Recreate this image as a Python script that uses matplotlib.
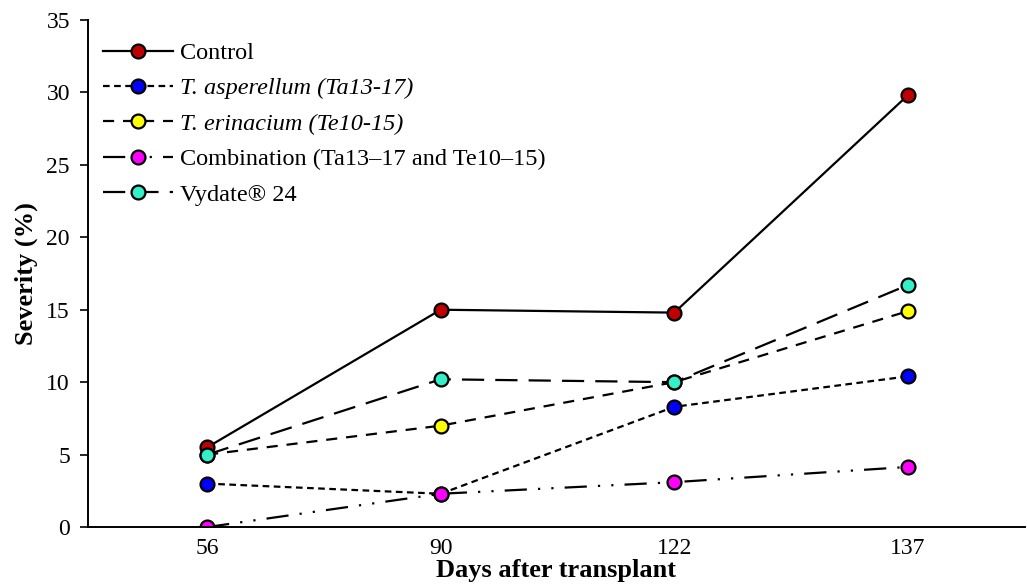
import matplotlib.pyplot as plt

plt.rcParams['font.family'] = ['Liberation Serif', 'DejaVu Serif']

days = ['56', '90', '122', '137']
control = [5.5, 15.0, 14.8, 29.8]
asperellum = [3.0, 2.3, 8.3, 10.4]
erinacium = [5.0, 7.0, 10.0, 14.9]
combination = [0.0, 2.3, 3.1, 4.15]
vydate = [5.0, 10.2, 10.0, 16.7]

labels = ['Control', 'T. asperellum (Ta13-17)', 'T. erinacium (Te10-15)',
          'Combination (Ta13\u201317 and Te10\u201315)', 'Vydate\u00ae 24']

fig = plt.figure(figsize=(10.27, 5.85), dpi=100)
ax = fig.add_axes([0.0857, 0.099, 0.912, 0.867])

x = range(len(days))
common = dict(color='black', lw=1.6, marker='o', markersize=10,
              markeredgecolor='black', markeredgewidth=1.6)
ax.plot(x, control, ls='-', markerfacecolor='#C00000', label=labels[0], **common)
ax.plot(x, asperellum, ls=(0, (3, 2)), markerfacecolor='#0000FF', label=labels[1], **common)
ax.plot(x, erinacium, ls=(0, (5, 4)), markerfacecolor='#FFFF00', label=labels[2], **common)
ax.plot(x, combination, ls=(0, (10, 5, 1, 5, 1, 5)), markerfacecolor='#FF00FF', label=labels[3], **common)
ax.plot(x, vydate, ls=(0, (10, 5)), markerfacecolor='#33F0C8', label=labels[4], **common)

ax.set_xlim(-0.51, 3.5)
ax.set_ylim(0, 35)
ax.set_xticks(list(x))
ax.set_xticklabels(days)
ax.set_yticks(range(0, 36, 5))
ax.tick_params(axis='x', length=0, labelsize=17, pad=8)
ax.tick_params(axis='y', length=6, width=1.2, direction='out', labelsize=17, pad=7)
for s in ['top', 'right']:
    ax.spines[s].set_visible(False)
for s in ['left', 'bottom']:
    ax.spines[s].set_linewidth(1.4)

ax.set_xlabel('Days after transplant', fontsize=19, fontweight='bold', labelpad=0)
ax.set_ylabel('Severity (%)', fontsize=19, fontweight='bold', labelpad=6)

leg = ax.legend(loc='upper left', frameon=False, fontsize=17.5, handlelength=2.9,
                handletextpad=0.3, labelspacing=0.55, borderaxespad=0.2,
                bbox_to_anchor=(0.0, 0.985))
for t in leg.get_texts()[1:3]:
    t.set_fontstyle('italic')

fig.savefig('out.png', dpi=100)
